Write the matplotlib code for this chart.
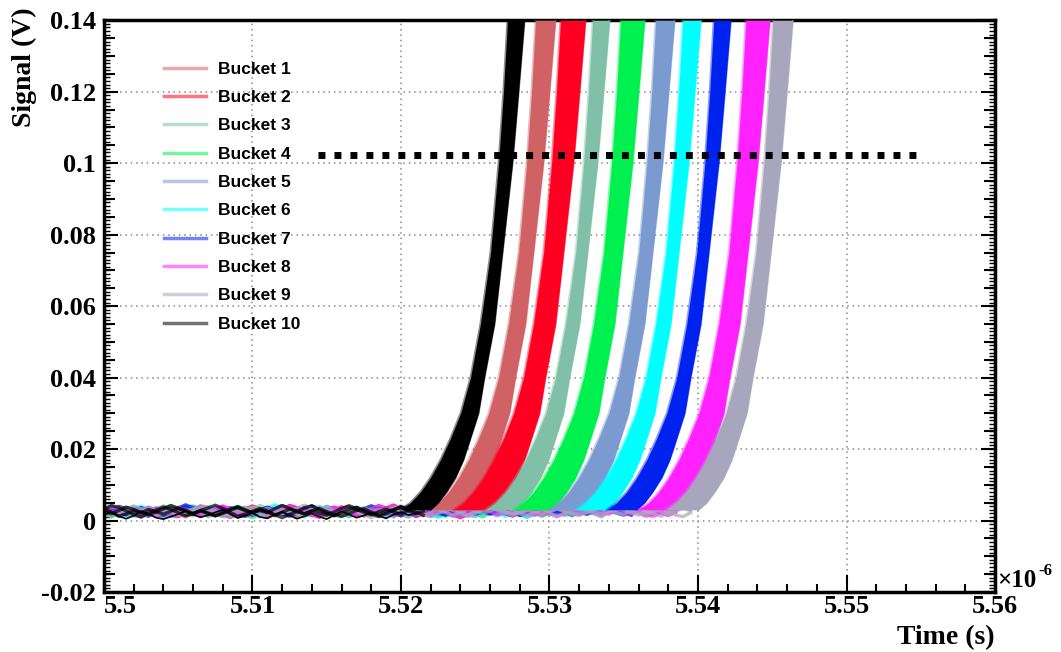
import numpy as np
import matplotlib.pyplot as plt
from matplotlib.ticker import MultipleLocator, FixedLocator
from matplotlib.lines import Line2D

buckets = ["Bucket 1", "Bucket 2", "Bucket 3", "Bucket 4", "Bucket 5",
           "Bucket 6", "Bucket 7", "Bucket 8", "Bucket 9", "Bucket 10"]
colors = ["#d06266", "#ff0022", "#80c0a8", "#00f050", "#7a9ad0",
          "#00ffff", "#0022ee", "#ff22ff", "#a8a6bc", "#000000"]

# rising edge of bucket 10 (earliest and latest trace), time in 1e-6 s
edge_volts = [0.003, 0.005, 0.008, 0.012, 0.017, 0.023, 0.03, 0.04, 0.055,
              0.075, 0.1, 0.12, 0.14]
edge_left = [5.51996, 5.52063, 5.52131, 5.52198, 5.52266, 5.52333, 5.52401,
             5.52468, 5.52535, 5.52603, 5.52657, 5.52690, 5.52717]
edge_right = [5.52198, 5.52252, 5.52306, 5.52367, 5.52421, 5.52468, 5.52522,
              5.52562, 5.52630, 5.52684, 5.52751, 5.52792, 5.52832]

# delay of every bucket relative to bucket 10, ns (earliest / latest trace)
shift_left = [1.89, 3.57, 5.73, 7.62, 9.98, 11.80, 13.89, 16.05, 17.87, 0.0]
shift_right = [2.09, 4.11, 5.73, 8.09, 10.11, 11.87, 13.89, 16.52, 18.07, 0.0]

# baseline noise, mV, one sample every 0.5 ns from 5.5e-6 s
noise_a = [2.1, 3.0, 2.4, 1.6, 2.8, 3.6, 2.9, 2.0, 1.4, 2.3, 3.2, 3.9, 3.1, 2.2, 1.7, 2.6,
           3.4, 2.7, 1.9, 1.2, 2.0, 2.9, 3.7, 3.0, 2.4, 1.8, 2.5, 3.3, 4.1, 3.2, 2.3, 1.5,
           2.2, 3.0, 2.6, 1.9, 2.7, 3.5, 2.8, 2.1, 1.3, 2.4, 3.1, 3.8, 2.9, 2.0, 1.6, 2.5,
           3.3, 2.6, 1.8, 2.3, 3.2, 4.0, 3.1, 2.2, 1.4, 2.1, 2.9, 3.6, 2.7, 1.9, 2.6, 3.4,
           2.5, 1.7, 2.4, 3.1, 3.9, 3.0, 2.2, 1.5, 2.3, 3.2, 2.8, 2.0, 2.7, 3.5, 2.6, 1.8]
noise_b = [3.4, 2.6, 1.5, 1.1, 2.2, 3.1, 4.0, 3.5, 2.4, 1.6, 0.9, 1.8, 2.7, 3.3, 2.5, 1.4,
           2.0, 3.0, 4.2, 3.6, 2.7, 1.7, 1.0, 2.1, 2.9, 3.8, 3.1, 2.2, 1.3, 1.9, 2.8, 3.5,
           4.3, 3.4, 2.3, 1.2, 1.8, 2.6, 3.4, 2.7, 1.6, 0.8, 1.7, 2.5, 3.6, 4.1, 3.0, 2.0,
           1.3, 2.2, 3.1, 3.7, 2.8, 1.9, 1.1, 2.0, 2.8, 3.9, 3.2, 2.4, 1.5, 2.3, 3.0, 4.0,
           3.3, 2.1, 1.2, 1.9, 2.7, 3.5, 2.9, 1.8, 1.0, 2.2, 3.1, 3.8, 3.0, 2.1, 1.4, 2.4]
noise_c = [1.2, 1.9, 2.7, 2.2, 3.1, 2.5, 1.8, 2.6, 3.5, 2.9, 2.0, 2.8, 2.1, 1.3, 2.0, 2.9,
           3.6, 2.8, 2.2, 3.0, 2.4, 1.5, 2.3, 3.2, 2.6, 1.9, 2.7, 3.4, 2.5, 1.7, 1.1, 2.0,
           2.8, 3.3, 2.4, 1.6, 2.5, 3.1, 3.8, 2.7, 1.9, 2.6, 2.0, 1.4, 2.2, 3.0, 2.5, 3.3,
           2.4, 1.6, 2.3, 3.1, 2.6, 1.8, 2.7, 3.6, 2.9, 2.1, 1.5, 2.4, 3.2, 2.5, 1.7, 2.6,
           3.4, 2.8, 2.0, 1.3, 2.1, 2.9, 2.3, 3.0, 3.7, 2.8, 1.9, 2.5, 1.8, 2.6, 3.3, 2.4]
noise_d = [2.8, 2.2, 3.3, 4.2, 3.4, 2.5, 1.9, 2.7, 2.1, 1.5, 2.4, 3.4, 4.0, 3.1, 2.3, 1.6,
           2.5, 3.2, 2.4, 1.8, 2.9, 3.9, 3.3, 2.5, 1.7, 1.2, 2.1, 3.0, 2.5, 3.5, 4.4, 3.6,
           2.6, 1.8, 2.4, 1.7, 2.6, 3.6, 3.0, 2.2, 2.9, 3.7, 2.8, 1.9, 1.2, 2.0, 2.9, 3.9,
           3.2, 2.3, 1.5, 2.3, 3.0, 2.4, 3.3, 4.1, 3.3, 2.4, 1.7, 2.5, 1.9, 2.8, 3.7, 3.1,
           2.3, 1.6, 2.4, 3.3, 4.2, 3.4, 2.5, 1.8, 2.7, 2.0, 1.4, 2.3, 3.2, 3.9, 3.0, 2.2]
noise_black = [1.6, 2.4, 1.2, 0.5, 1.4, 2.6, 1.9, 0.8, 0.4, 1.1, 1.8, 2.7, 1.7, 0.9, 1.5,
               2.3, 3.0, 1.8, 0.7, 1.3, 2.1, 1.0, 0.6, 1.6, 2.5, 1.4, 0.5, 1.2, 2.0, 1.1,
               0.4, 1.5, 2.6, 1.7, 0.8, 1.4, 2.2, 1.3, 0.6, 1.7, 2.4, 1.5, 1.9]

xtick_vals = [5.50, 5.51, 5.52, 5.53, 5.54, 5.55, 5.56]
xtick_labels = ["5.5", "5.51", "5.52", "5.53", "5.54", "5.55", "5.56"]
ytick_vals = [-0.02, 0.0, 0.02, 0.04, 0.06, 0.08, 0.10, 0.12, 0.14]
ytick_labels = ["-0.02", "0", "0.02", "0.04", "0.06", "0.08", "0.1", "0.12", "0.14"]

threshold_level = 0.1022
threshold_start = 5.51443
threshold_end = 5.55469

serif = {"family": "Liberation Serif", "weight": "bold"}

fig = plt.figure(figsize=(10.61, 6.52), dpi=100)
ax = fig.add_axes([0.098, 0.092, 0.8398, 0.877])

noise_t = 5.5 + 0.0005 * np.arange(len(noise_a))
noise_sets = [noise_a, noise_b, noise_c, noise_d]
volts = np.array(edge_volts)

for i in range(len(buckets)):
    left = np.array(edge_left) + shift_left[i] / 1000.0
    right = np.array(edge_right) + shift_right[i] / 1000.0
    # baseline traces up to where the bucket starts rising
    keep = noise_t <= right[0]
    for k in range(3):
        vals = np.roll(noise_sets[(i + k) % 4], 7 * i + 19 * k) / 1000.0
        ax.plot(noise_t[keep], vals[keep], color=colors[i], lw=2.4, alpha=0.7, zorder=2)
    ax.fill_betweenx(volts, left, right, color=colors[i], lw=0, zorder=3)
    ax.plot(left, volts, color=colors[i], lw=1.5, alpha=0.45, zorder=3)
    ax.plot(right, volts, color=colors[i], lw=1.5, alpha=0.45, zorder=3)

black_t = 5.5 + 0.0005 * np.arange(len(noise_black))
ax.plot(black_t, np.array(noise_black) / 1000.0, color="black", lw=1.2, zorder=4)

ax.plot([threshold_start, threshold_end], [threshold_level, threshold_level],
        color="black", lw=5, linestyle=(0, (1, 1.3)), dash_capstyle="butt", zorder=5)

ax.set_xlim(5.5, 5.56)
ax.set_ylim(-0.02, 0.14)
ax.xaxis.set_major_locator(FixedLocator(xtick_vals))
ax.set_xticklabels(xtick_labels, fontdict=serif, fontsize=19)
ax.get_xticklabels()[0].set_horizontalalignment("left")
ax.xaxis.set_minor_locator(MultipleLocator(0.002))
ax.yaxis.set_major_locator(FixedLocator(ytick_vals))
ax.set_yticklabels(ytick_labels, fontdict=serif, fontsize=19)
ax.yaxis.set_minor_locator(MultipleLocator(0.005))
ax.tick_params(which="both", direction="in", right=True, top=False, width=1.5)
ax.tick_params(axis="x", which="major", length=12, pad=2)
ax.tick_params(axis="x", which="minor", length=6)
ax.tick_params(axis="y", which="major", length=10, pad=6)
ax.tick_params(axis="y", which="minor", length=8)

for side in ["left", "right"]:
    sec = ax.secondary_yaxis(side)
    sec.yaxis.set_major_locator(MultipleLocator(0.001))
    sec.tick_params(direction="in", length=4, width=1, labelleft=False, labelright=False)
    sec.spines[side].set_visible(False)

for s in ax.spines.values():
    s.set_linewidth(2.5)
ax.grid(True, which="major", color="#8a8a8a", linestyle=(0, (1, 2.5)), lw=1.1)

handles = [Line2D([], [], color=c, lw=2.5, alpha=0.55) for c in colors]
ax.legend(handles, buckets, loc="upper left", bbox_to_anchor=(0.05, 0.955),
          frameon=False, prop={"family": "Liberation Sans", "weight": "bold", "size": 12.5},
          handlelength=2.4, handletextpad=0.7, labelspacing=0.76)

ax.text(-0.0897, 1.022, "Signal (V)", transform=ax.transAxes, rotation=90,
        ha="center", va="top", fontsize=20, **serif)
ax.text(1.0, -0.079, "Time (s)", transform=ax.transAxes, ha="right", va="center",
        fontsize=20, **serif)
ax.text(1.002, 0.02, "×10", transform=ax.transAxes, ha="left", va="center",
        fontsize=18, **serif)
ax.text(1.049, 0.036, "-6", transform=ax.transAxes, ha="left", va="center",
        fontsize=12, **serif)

fig.savefig("out.png", dpi=100)
